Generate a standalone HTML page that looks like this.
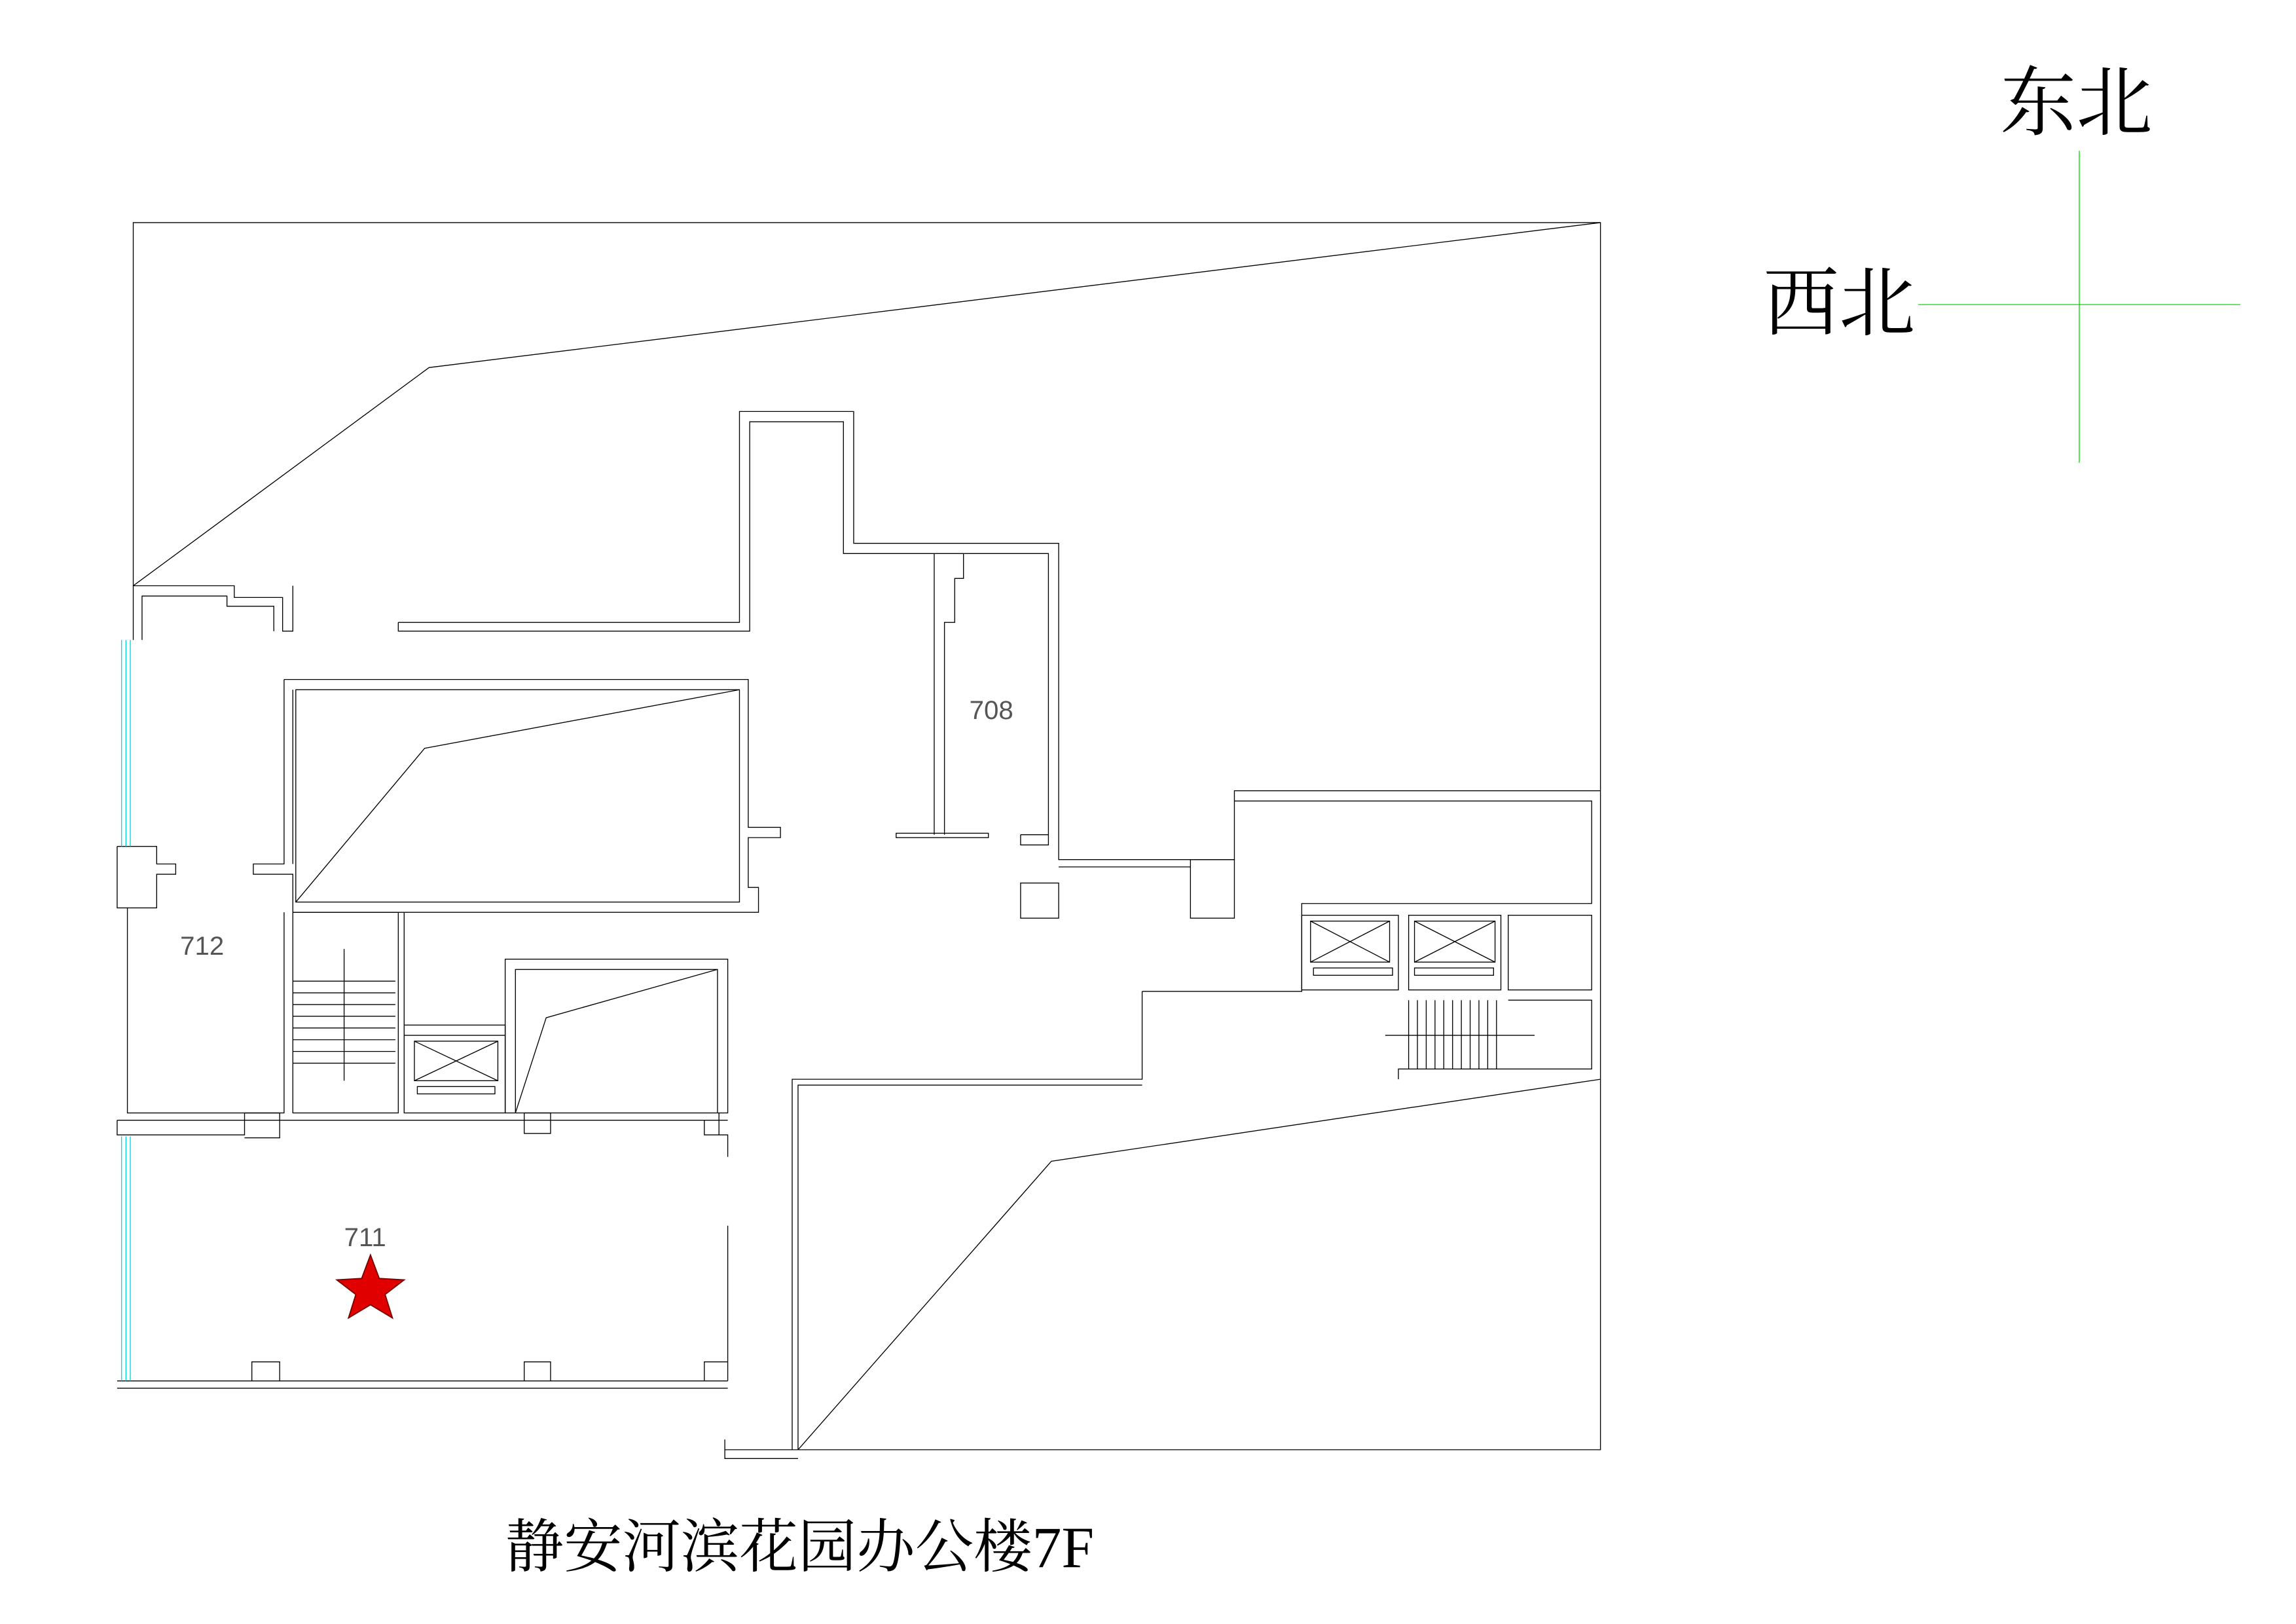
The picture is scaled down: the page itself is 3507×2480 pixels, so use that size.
<!DOCTYPE html>
<html><head><meta charset="utf-8"><style>
html,body{margin:0;padding:0;background:#fff;}
svg{display:block;}
.s{font-family:"Liberation Serif","Noto Serif CJK SC",serif;}
.l{font-family:"Liberation Sans",sans-serif;}
</style></head><body>
<svg width="3507" height="2480" viewBox="0 0 1568 1109" preserveAspectRatio="none" xmlns="http://www.w3.org/2000/svg">
<g fill="none" stroke="#000" stroke-width="0.6">
<polyline points="91,400 91,152 1093,152 1093,990 545,990"/>
<polyline points="1093,152 293,251 91,400"/>
<polyline points="1093,737 718,793 545,990"/>
<polyline points="780,677 780,737 541,737 541,990"/>
<polyline points="545,990 545,741 780,741"/>
<polyline points="495,990 545,990"/>
<polyline points="495,983 495,996 545,996"/>
<polyline points="91,437 91,400 160,400 160,408 193,408 193,431 200,431 200,400"/>
<polyline points="97,437 97,407 155,407 155,414 187,414 187,431"/>
<polyline points="272,425 505,425 505,281 583,281 583,371 723,371 723,587 843,587 843,540 1093,540"/>
<polyline points="272,425 272,431 512,431 512,288 576,288 576,378 716,378 716,570"/>
<polyline points="638,378 638,570"/>
<polyline points="645,570 645,425 652,425 652,395 658,395 658,378"/>
<rect x="612" y="569" width="63" height="3"/>
<polyline points="697,570 716,570 716,577 697,577 697,570"/>
<rect x="697" y="603" width="26" height="24"/>
<polyline points="723,592 813,592"/>
<rect x="813" y="587" width="30" height="40"/>
<polyline points="843,547 1087,547 1087,617 889,617 889,677 780,677"/>
<rect x="889" y="625" width="66" height="51"/>
<rect x="895" y="629" width="54" height="28"/>
<line x1="895" y1="629" x2="949" y2="657"/><line x1="949" y1="629" x2="895" y2="657"/>
<rect x="897" y="661" width="54" height="5"/>
<rect x="962" y="625" width="63" height="51"/>
<rect x="966" y="629" width="55" height="28"/>
<line x1="966" y1="629" x2="1021" y2="657"/><line x1="1021" y1="629" x2="966" y2="657"/>
<rect x="966" y="661" width="54" height="5"/>
<rect x="1030" y="625" width="57" height="51"/>
<polyline points="1030,683 1087,683 1087,730 955,730 955,737"/>
<line x1="946" y1="707" x2="1048" y2="707"/>
<g>
<line x1="962" y1="683" x2="962" y2="730"/><line x1="968" y1="683" x2="968" y2="730"/><line x1="974" y1="683" x2="974" y2="730"/><line x1="980" y1="683" x2="980" y2="730"/><line x1="986" y1="683" x2="986" y2="730"/><line x1="992" y1="683" x2="992" y2="730"/><line x1="998" y1="683" x2="998" y2="730"/><line x1="1004" y1="683" x2="1004" y2="730"/><line x1="1010" y1="683" x2="1010" y2="730"/><line x1="1016" y1="683" x2="1016" y2="730"/><line x1="1022" y1="683" x2="1022" y2="730"/>
</g>
<polyline points="194,464 511,464 511,565 533,565 533,572 511,572 511,606 518,606 518,623 200,623 200,597 173,597 173,590 194,590 194,464"/>
<polyline points="200,590 200,471"/>
<rect x="202" y="471" width="303" height="145"/>
<polyline points="505,471 290,511 202,616"/>
<polyline points="80,578 80,620 87,620 87,760 194,760 194,623"/>
<polyline points="80,578 107,578 107,590 120,590 120,597 107,597 107,620 87,620"/>
<rect x="200" y="623" width="72" height="137"/>
<line x1="276" y1="623" x2="276" y2="700"/>
<line x1="235" y1="648" x2="235" y2="738"/>
<line x1="200" y1="670" x2="270" y2="670"/><line x1="200" y1="678" x2="270" y2="678"/><line x1="200" y1="686" x2="270" y2="686"/><line x1="200" y1="694" x2="270" y2="694"/><line x1="200" y1="702" x2="270" y2="702"/><line x1="200" y1="710" x2="270" y2="710"/><line x1="200" y1="718" x2="270" y2="718"/><line x1="200" y1="726" x2="270" y2="726"/>
<rect x="276" y="700" width="69" height="60"/>
<line x1="276" y1="707" x2="345" y2="707"/>
<rect x="283" y="711" width="57" height="27"/>
<line x1="283" y1="711" x2="340" y2="738"/><line x1="340" y1="711" x2="283" y2="738"/>
<rect x="285" y="742" width="53" height="5"/>
<rect x="345" y="655" width="152" height="105"/>
<polyline points="352,760 352,662 490,662 490,760"/>
<polyline points="490,662 373,695 352,760"/>
<polyline points="80,765 80,775 167,775 167,760 191,760 191,777 167,777"/>
<line x1="80" y1="765" x2="497" y2="765"/>
<rect x="358" y="760" width="18" height="14"/>
<polyline points="481,765 481,775 497,775 497,790"/>
<line x1="491" y1="760" x2="491" y2="775"/>
<line x1="497" y1="837" x2="497" y2="943"/>
<line x1="80" y1="943" x2="497" y2="943"/>
<line x1="80" y1="948" x2="497" y2="948"/>
<polyline points="172,943 172,930 191,930 191,943"/>
<polyline points="358,943 358,930 376,930 376,943"/>
<polyline points="481,943 481,930 497,930"/>
</g>
<g stroke="#00d8e8" stroke-width="0.6">
<line x1="83" y1="437" x2="83" y2="578"/><line x1="86" y1="437" x2="86" y2="578"/><line x1="89" y1="437" x2="89" y2="578"/>
<line x1="83" y1="776" x2="83" y2="943"/><line x1="86" y1="776" x2="86" y2="943"/><line x1="89" y1="776" x2="89" y2="943"/>
</g>
<g stroke="#00e000" stroke-width="0.6">
<line x1="1420" y1="103" x2="1420" y2="316"/>
<line x1="1310" y1="208" x2="1530" y2="208"/>
</g>
<polygon points="253,857 259,873 276,874 263,884 268,900 253,891 238,900 243,884 230,874 247,873" fill="#e00000" stroke="#700" stroke-width="0.8"/>
<text class="l" x="662" y="491" font-size="18" fill="#555">708</text>
<text class="l" x="123" y="652" font-size="18" fill="#555">712</text>
<text class="l" x="235" y="851" font-size="18" fill="#555">711</text>
<text class="s" x="1366" y="88" font-size="52" fill="#000">东北</text>
<text class="s" x="1204" y="225" font-size="52" fill="#000">西北</text>
<text class="s" x="345" y="1070" font-size="40" fill="#000">静安河滨花园办公楼7F</text>
</svg>
</body></html>
